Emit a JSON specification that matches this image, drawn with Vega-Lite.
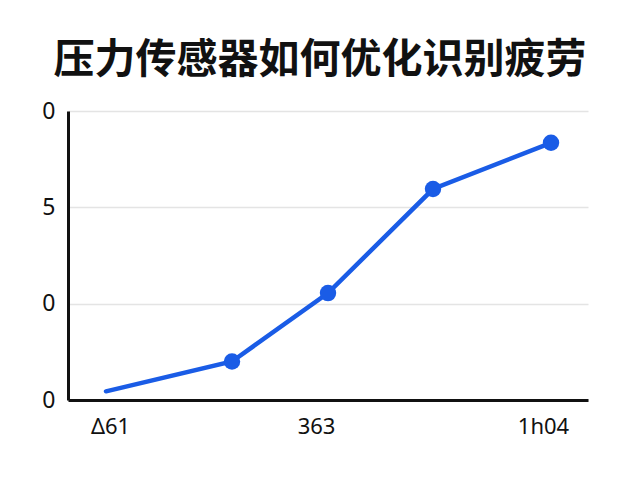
{
  "$schema": "https://vega.github.io/schema/vega-lite/v6.json",
  "autosize": {"type": "none"},
  "padding": {"left": 68, "top": 111, "right": 52, "bottom": 80},
  "width": 520,
  "height": 289,
  "background": "white",
  "view": {"stroke": null},
  "title": {
    "text": "压力传感器如何优化识别疲劳",
    "font": "Noto Sans CJK SC",
    "fontSize": 41,
    "fontWeight": "bold",
    "color": "#111111",
    "anchor": "middle",
    "dx": -8,
    "offset": 18
  },
  "data": {
    "values": [
      {"t": 38, "value": 0.45, "marker": false},
      {"t": 164, "value": 2.0, "marker": true},
      {"t": 260, "value": 5.55, "marker": true},
      {"t": 365, "value": 10.95, "marker": true},
      {"t": 483, "value": 13.35, "marker": true}
    ]
  },
  "encoding": {
    "x": {
      "field": "t",
      "type": "quantitative",
      "scale": {"domain": [0, 520], "nice": false, "zero": false},
      "title": null,
      "axis": {
        "values": [42, 248, 475],
        "labelExpr": "datum.value == 42 ? 'Δ61' : datum.value == 248 ? '363' : '1h04'",
        "grid": false,
        "ticks": false,
        "domainColor": "#111111",
        "domainWidth": 3,
        "labelFont": "Noto Sans",
        "labelFontSize": 22,
        "labelColor": "#111111",
        "labelPadding": 16
      }
    },
    "y": {
      "field": "value",
      "type": "quantitative",
      "scale": {"domain": [0, 15], "nice": false},
      "title": null,
      "axis": {
        "values": [0, 5, 10, 15],
        "labelExpr": "datum.value == 10 ? '5' : '0'",
        "ticks": false,
        "grid": true,
        "gridColor": "#e4e4e4",
        "gridWidth": 1.5,
        "domainColor": "#111111",
        "domainWidth": 3,
        "labelFont": "Noto Sans",
        "labelFontSize": 23,
        "labelColor": "#111111",
        "labelPadding": 13
      }
    }
  },
  "layer": [
    {
      "mark": {"type": "line", "color": "#1a5ce6", "strokeWidth": 4.5, "strokeCap": "round"}
    },
    {
      "transform": [{"filter": "datum.marker"}],
      "mark": {"type": "circle", "color": "#1a5ce6", "opacity": 1, "size": 270}
    }
  ]
}
